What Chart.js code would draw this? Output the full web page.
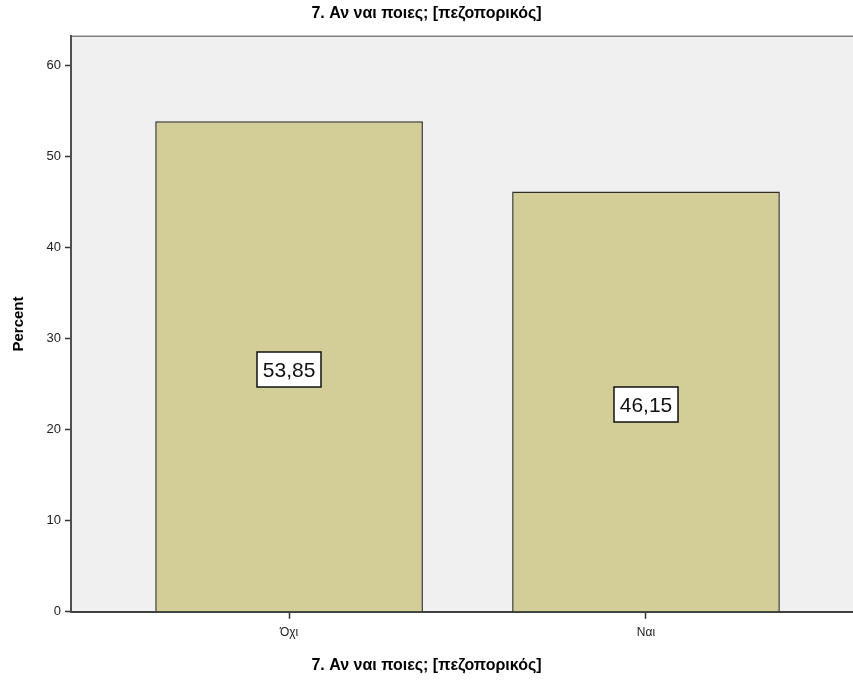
<!DOCTYPE html>
<html>
<head>
<meta charset="utf-8">
<script src="https://cdn.jsdelivr.net/npm/chart.js@4"></script>
<style>
  html, body { margin: 0; padding: 0; background: #fff; }
  #wrap { width: 853px; height: 682px; }
</style>
</head>
<body>
<div id="wrap"><canvas id="chart" width="853" height="682"></canvas></div>
<script>
const categories = ['Όχι', 'Ναι'];
const percents = [53.85, 46.15];
const yTicks = [0, 10, 20, 30, 40, 50, 60];
const chartTitle = '7. Αν ναι ποιες; [πεζοπορικός]';

const FONT = '"Liberation Sans", Arial, sans-serif';

// grey plot background and the thin top border
const plotBackground = {
  id: 'plotBackground',
  beforeDraw(chart) {
    const { ctx, chartArea: a } = chart;
    ctx.save();
    ctx.fillStyle = '#f0f0f0';
    ctx.fillRect(a.left, a.top, a.right - a.left, a.bottom - a.top);
    ctx.strokeStyle = '#808080';
    ctx.lineWidth = 1.5;
    ctx.beginPath();
    ctx.moveTo(a.left, a.top);
    ctx.lineTo(a.right, a.top);
    ctx.stroke();
    ctx.restore();
  }
};

// boxed value labels in the middle of each bar
const valueBoxes = {
  id: 'valueBoxes',
  afterDatasetsDraw(chart) {
    const { ctx } = chart;
    const meta = chart.getDatasetMeta(0);
    ctx.save();
    ctx.font = '21px ' + FONT;
    ctx.textAlign = 'center';
    ctx.textBaseline = 'middle';
    meta.data.forEach((bar, i) => {
      const txt = percents[i].toFixed(2).replace('.', ',');
      const w = Math.round(ctx.measureText(txt).width + 11);
      const h = 35;
      const cx = bar.x;
      const cy = (bar.y + bar.base) / 2 + 3.5;
      const x0 = Math.round(cx - w / 2), y0 = Math.round(cy - h / 2);
      ctx.fillStyle = '#fff';
      ctx.fillRect(x0, y0, w, h);
      ctx.strokeStyle = '#111';
      ctx.lineWidth = 1.5;
      ctx.strokeRect(x0, y0, w, h);
      ctx.fillStyle = '#111';
      ctx.fillText(txt, cx, cy + 1);
    });
    ctx.restore();
  }
};

new Chart(document.getElementById('chart'), {
  type: 'bar',
  data: {
    datasets: [{
      data: percents.map((v, i) => ({ x: i, y: v })),
      backgroundColor: '#d3ce98',
      borderColor: '#303028',
      borderWidth: 1.5,
      barPercentage: 0.75,
      categoryPercentage: 1
    }]
  },
  options: {
    responsive: false,
    animation: false,
    layout: { padding: 0 },
    plugins: {
      legend: { display: false },
      tooltip: { enabled: false },
      title: {
        display: true,
        text: chartTitle,
        color: '#000',
        font: { family: FONT, size: 16, weight: 'bold' },
        padding: { top: 4, bottom: 13 }
      },
      subtitle: {
        display: true,
        position: 'bottom',
        text: chartTitle,
        color: '#000',
        font: { family: FONT, size: 16, weight: 'bold' },
        padding: { top: 0, bottom: 7 }
      }
    },
    scales: {
      x: {
        type: 'linear',
        offset: false,
        min: -0.611,
        max: 1.58,
        afterBuildTicks: (s) => { s.ticks = categories.map((c, i) => ({ value: i })); },
        afterFit: (s) => { s.height = 44; },
        ticks: {
          callback: (v) => categories[v],
          color: '#222',
          font: { family: FONT, size: 12 },
          padding: 7,
          maxRotation: 0
        },
        grid: { offset: false, drawOnChartArea: false, tickLength: 7, color: '#333', tickWidth: 1.5 },
        border: { color: '#404040', width: 2 }
      },
      y: {
        min: 0,
        max: 63.2,
        afterBuildTicks: (s) => { s.ticks = yTicks.map(v => ({ value: v })); },
        afterFit: (s) => { s.width = 71; },
        ticks: {
          color: '#222',
          font: { family: FONT, size: 13 },
          padding: 4
        },
        grid: { drawOnChartArea: false, tickLength: 6, color: '#333', tickWidth: 1.5 },
        border: { color: '#505050', width: 2 },
        title: {
          display: true,
          text: 'Percent',
          color: '#000',
          font: { family: FONT, size: 15, weight: 'bold' },
          padding: { top: 10, bottom: 0 }
        }
      }
    }
  },
  plugins: [plotBackground, valueBoxes]
});
</script>
</body>
</html>
